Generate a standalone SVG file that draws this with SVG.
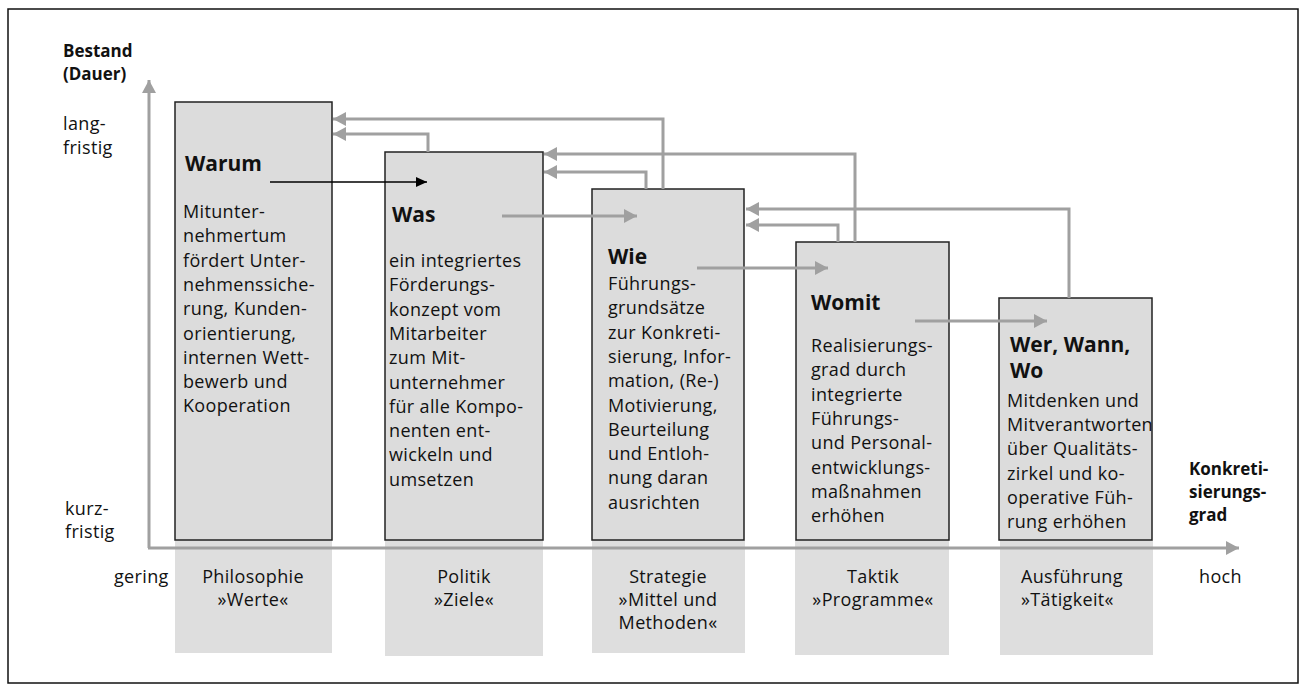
<svg xmlns="http://www.w3.org/2000/svg" width="1304" height="691" viewBox="0 0 1304 691">
<style>
.t{font-family:"Open Sans","Noto Sans","Liberation Sans",sans-serif;font-size:18px;letter-spacing:0.35px;fill:#111}
.b{font-family:"Open Sans","Noto Sans","Liberation Sans",sans-serif;font-weight:bold;fill:#111}
.h{font-size:21px}
.ax{font-size:17px}
.box{fill:#dcdcdc;stroke:#222;stroke-width:1.5}
.col{fill:#dedede}
.g{fill:none;stroke:#a0a0a0;stroke-width:3}
.c{text-anchor:middle}
</style>
<defs>
<marker id="ag" markerWidth="14" markerHeight="14" refX="13" refY="7" orient="auto" markerUnits="userSpaceOnUse"><path d="M0,0 L13,7 L0,14 z" fill="#a0a0a0"/></marker>
<marker id="ab" markerWidth="12" markerHeight="10" refX="11" refY="5" orient="auto" markerUnits="userSpaceOnUse"><path d="M0,0 L11,5 L0,10 z" fill="#000"/></marker>
</defs>
<rect x="8" y="9" width="1290" height="674" fill="#fff" stroke="#111" stroke-width="1.5"/>
<g id="columns">
<rect class="col" x="175" y="540" width="157" height="113"/>
<rect class="col" x="385" y="540" width="158" height="116"/>
<rect class="col" x="592" y="540" width="153" height="113"/>
<rect class="col" x="795" y="540" width="154" height="115"/>
<rect class="col" x="1000" y="540" width="153" height="115"/>
</g>
<g id="axes">
<path class="g" d="M149,548 V80" marker-end="url(#ag)"/>
<path class="g" d="M148,548 H1239" marker-end="url(#ag)"/>
<text class="b ax" x="63" y="57">Bestand</text>
<text class="b ax" x="63" y="80">(Dauer)</text>
<text class="t" x="63" y="130">lang-</text>
<text class="t" x="63" y="154">fristig</text>
<text class="t" x="65" y="515">kurz-</text>
<text class="t" x="65" y="538">fristig</text>
<text class="t" x="114" y="583">gering</text>
<text class="t" x="1199" y="583">hoch</text>
<text class="b ax" x="1189" y="475">Konkreti-</text>
<text class="b ax" x="1189" y="498">sierungs-</text>
<text class="b ax" x="1189" y="521">grad</text>
</g>
<g id="warum">
<rect class="box" x="175" y="102" width="157" height="438"/>
<text class="b h" x="185" y="171">Warum</text>
<text class="t" x="183" y="218"><tspan x="183">Mitunter-</tspan><tspan x="183" dy="24.3">nehmertum</tspan><tspan x="183" dy="24.3">fördert Unter-</tspan><tspan x="183" dy="24.3">nehmenssiche-</tspan><tspan x="183" dy="24.3">rung, Kunden-</tspan><tspan x="183" dy="24.3">orientierung,</tspan><tspan x="183" dy="24.3">internen Wett-</tspan><tspan x="183" dy="24.3">bewerb und</tspan><tspan x="183" dy="24.3">Kooperation</tspan></text>
<text class="t c" x="253" y="583">Philosophie</text>
<text class="t c" x="253" y="606">»Werte«</text>
</g>
<g id="was">
<rect class="box" x="385" y="152" width="158" height="388"/>
<text class="b h" x="392" y="222">Was</text>
<text class="t" x="389" y="267"><tspan x="389">ein integriertes</tspan><tspan x="389" dy="24.3">Förderungs-</tspan><tspan x="389" dy="24.3">konzept vom</tspan><tspan x="389" dy="24.3">Mitarbeiter</tspan><tspan x="389" dy="24.3">zum Mit-</tspan><tspan x="389" dy="24.3">unternehmer</tspan><tspan x="389" dy="24.3">für alle Kompo-</tspan><tspan x="389" dy="24.3">nenten ent-</tspan><tspan x="389" dy="24.3">wickeln und</tspan><tspan x="389" dy="24.3">umsetzen</tspan></text>
<text class="t c" x="464" y="583">Politik</text>
<text class="t c" x="464" y="606">»Ziele«</text>
</g>
<g id="wie">
<rect class="box" x="592" y="189" width="152" height="351"/>
<text class="b h" x="608" y="264">Wie</text>
<text class="t" x="608" y="290"><tspan x="608">Führungs-</tspan><tspan x="608" dy="24.3">grundsätze</tspan><tspan x="608" dy="24.3">zur Konkreti-</tspan><tspan x="608" dy="24.3">sierung, Infor-</tspan><tspan x="608" dy="24.3">mation, (Re-)</tspan><tspan x="608" dy="24.3">Motivierung,</tspan><tspan x="608" dy="24.3">Beurteilung</tspan><tspan x="608" dy="24.3">und Entloh-</tspan><tspan x="608" dy="24.3">nung daran</tspan><tspan x="608" dy="24.3">ausrichten</tspan></text>
<text class="t c" x="668" y="583">Strategie</text>
<text class="t c" x="668" y="606">»Mittel und</text>
<text class="t c" x="668" y="629">Methoden«</text>
</g>
<g id="womit">
<rect class="box" x="796" y="242" width="153" height="298"/>
<text class="b h" x="811" y="310">Womit</text>
<text class="t" x="811" y="352"><tspan x="811">Realisierungs-</tspan><tspan x="811" dy="24.3">grad durch</tspan><tspan x="811" dy="24.3">integrierte</tspan><tspan x="811" dy="24.3">Führungs-</tspan><tspan x="811" dy="24.3">und Personal-</tspan><tspan x="811" dy="24.3">entwicklungs-</tspan><tspan x="811" dy="24.3">maßnahmen</tspan><tspan x="811" dy="24.3">erhöhen</tspan></text>
<text class="t c" x="873" y="583">Taktik</text>
<text class="t c" x="873" y="606">»Programme«</text>
</g>
<g id="wer">
<rect class="box" x="999" y="298" width="153" height="242"/>
<text class="b h" x="1010" y="352">Wer, Wann,</text>
<text class="b h" x="1010" y="378">Wo</text>
<text class="t" x="1007" y="407"><tspan x="1007">Mitdenken und</tspan><tspan x="1007" dy="24.2">Mitverantworten</tspan><tspan x="1007" dy="24.2">über Qualitäts-</tspan><tspan x="1007" dy="24.2">zirkel und ko-</tspan><tspan x="1007" dy="24.2">operative Füh-</tspan><tspan x="1007" dy="24.2">rung erhöhen</tspan></text>
<text class="t" x="1021" y="583">Ausführung</text>
<text class="t" x="1021" y="606">»Tätigkeit«</text>
</g>
<g id="connectors">
<path d="M270,182 H427" fill="none" stroke="#000" stroke-width="1.5" marker-end="url(#ab)"/>
<path class="g" d="M502,216 H637" stroke-width="4" marker-end="url(#ag)"/>
<path class="g" d="M697,268 H828" marker-end="url(#ag)"/>
<path class="g" d="M915,321 H1047" stroke-width="4" marker-end="url(#ag)"/>
<path class="g" d="M428,152 V134 H333" marker-end="url(#ag)"/>
<path class="g" d="M663,189 V119 H333" marker-end="url(#ag)"/>
<path class="g" d="M646,189 V172 H544" marker-end="url(#ag)"/>
<path class="g" d="M855,242 V154 H544" marker-end="url(#ag)"/>
<path class="g" d="M838,242 V225 H746" marker-end="url(#ag)"/>
<path class="g" d="M1069,298 V209 H746" marker-end="url(#ag)"/>
</g>
</svg>
